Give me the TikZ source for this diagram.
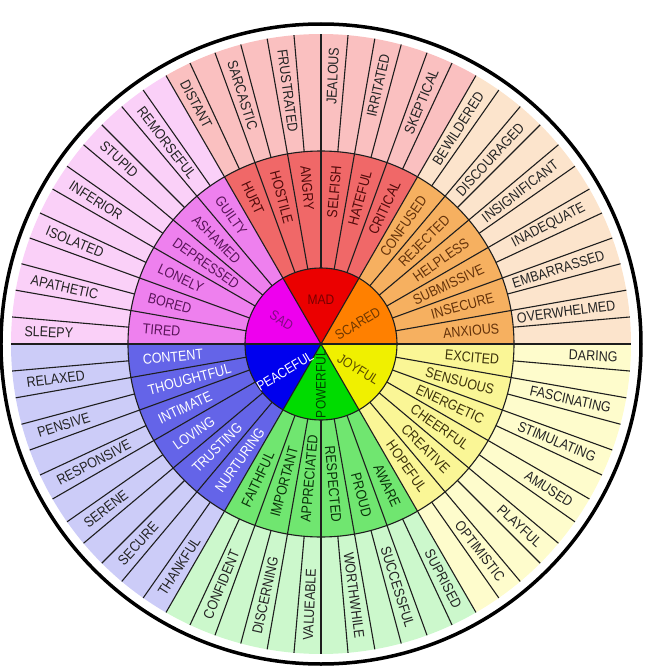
\documentclass[tikz,border=0pt]{standalone}
\usepackage{fontspec}
\setmainfont{Liberation Sans}
\definecolor{sadI}{RGB}{238,0,238}
\definecolor{sadM}{RGB}{238,128,238}
\definecolor{sadO}{RGB}{250,208,248}
\definecolor{madI}{RGB}{235,0,0}
\definecolor{madM}{RGB}{240,104,104}
\definecolor{madO}{RGB}{250,192,192}
\definecolor{scaI}{RGB}{255,128,0}
\definecolor{scaM}{RGB}{246,176,96}
\definecolor{scaO}{RGB}{252,228,204}
\definecolor{joyI}{RGB}{240,240,0}
\definecolor{joyM}{RGB}{250,246,150}
\definecolor{joyO}{RGB}{254,252,204}
\definecolor{powI}{RGB}{0,220,0}
\definecolor{powM}{RGB}{112,230,112}
\definecolor{powO}{RGB}{204,248,204}
\definecolor{peaI}{RGB}{0,0,238}
\definecolor{peaM}{RGB}{100,100,232}
\definecolor{peaO}{RGB}{204,204,248}
\definecolor{sadT}{RGB}{90,20,90}
\definecolor{madT}{RGB}{80,10,10}
\definecolor{scaT}{RGB}{100,50,10}
\definecolor{joyT}{RGB}{60,50,10}
\definecolor{powT}{RGB}{10,50,10}
\definecolor{outT}{RGB}{35,35,35}
\newcommand\radword[5]{% #1 angle, #2 radius, #3 style, #4 name, #5 text
  \pgfmathsetmacro\rwcos{cos(#1)}%
  \ifdim\rwcos pt>0pt
    \node[#3,anchor=east,rotate=#1] (#4) at (#1:#2) {\scalebox{1}[1.15]{#5}};
  \else
    \node[#3,anchor=west,rotate=#1+180] (#4) at (#1:#2) {\scalebox{1}[1.15]{#5}};
  \fi}
\tikzset{
  wline/.style={draw={rgb,255:red,30;green,30;blue,30},line width=1.1pt},
  wordbase/.style={inner sep=0pt,font=\fontsize{12.5}{14}\selectfont},
  outword/.style={wordbase,text=outT},
  midword/.style={wordbase},
  coreword/.style={inner sep=0pt,font=\fontsize{12}{14}\selectfont},
}
\begin{document}
\begin{tikzpicture}[x=1pt,y=1pt]
\useasboundingbox (-321,-326) rectangle (325,344);
% sectors
\foreach \a/\c in {0/sca,60/mad,120/sad,180/pea,240/pow,300/joy}{
  \fill[\c O] (\a:193) arc[start angle=\a,end angle=\a+60,radius=193] -- (\a+60:310) arc[start angle=\a+60,end angle=\a,radius=310] -- cycle;
  \fill[\c M] (\a:76) arc[start angle=\a,end angle=\a+60,radius=76] -- (\a+60:193) arc[start angle=\a+60,end angle=\a,radius=193] -- cycle;
  \fill[\c I] (0,0) -- (\a:76) arc[start angle=\a,end angle=\a+60,radius=76] -- cycle;
}
% dividers
\foreach \t in {0,5,...,355} \draw[wline] (\t:193) -- (\t:310);
\foreach \t in {0,10,...,350} \draw[wline] (\t:76) -- (\t:193);
\foreach \t in {0,60,...,300} \draw[wline] (0,0) -- (\t:76);
\draw[wline] (0,0) circle[radius=76];
\draw[wline] (0,0) circle[radius=193];
\draw[line width=3.5pt,black] (0,0) circle[radius=320];
% outer words
\foreach \a/\w [count=\i] in {177.5/SLEEPY,167.5/APATHETIC,157.5/ISOLATED,147.5/INFERIOR,137.5/STUPID,127.5/REMORSEFUL,
  117.5/DISTANT,107.5/SARCASTIC,97.5/FRUSTRATED,87.5/JEALOUS,77.5/IRRITATED,67.5/SKEPTICAL,
  57.5/BEWILDERED,47.5/DISCOURAGED,37.5/INSIGNIFICANT,27.5/INADEQUATE,17.5/EMBARRASSED,7.5/OVERWHELMED,
  -2.5/DARING,-12.5/FASCINATING,-22.5/STIMULATING,-32.5/AMUSED,-42.5/PLAYFUL,-52.5/OPTIMISTIC,
  -62.5/SUPRISED,-72.5/SUCCESSFUL,-82.5/WORTHWHILE,267.5/VALUEABLE,257.5/DISCERNING,247.5/CONFIDENT,
  237.5/THANKFUL,227.5/SECURE,217.5/SERENE,207.5/RESPONSIVE,197.5/PENSIVE,187.5/RELAXED}
  {\radword{\a}{297}{outword}{o\i}{\w}}
% middle words
\foreach \a/\w/\c [count=\i] in {175/TIRED/sadT,165/BORED/sadT,155/LONELY/sadT,145/DEPRESSED/sadT,135/ASHAMED/sadT,125/GUILTY/sadT,
  115/HURT/madT,105/HOSTILE/madT,95/ANGRY/madT,85/SELFISH/madT,75/HATEFUL/madT,65/CRITICAL/madT,
  55/CONFUSED/scaT,45/REJECTED/scaT,35/HELPLESS/scaT,25/SUBMISSIVE/scaT,15/INSECURE/scaT,5/ANXIOUS/scaT,
  -5/EXCITED/joyT,-15/SENSUOUS/joyT,-25/ENERGETIC/joyT,-35/CHEERFUL/joyT,-45/CREATIVE/joyT,-55/HOPEFUL/joyT,
  -65/AWARE/powT,-75/PROUD/powT,-85/RESPECTED/powT,265/APPRECIATED/powT,255/IMPORTANT/powT,245/FAITHFUL/powT,
  235/NURTURING/white,225/TRUSTING/white,215/LOVING/white,205/INTIMATE/white,195/THOUGHTFUL/white,185/CONTENT/white}
  {\radword{\a}{179}{midword,text=\c}{m\i}{\w}}
% core words
\node[coreword,text={rgb,255:red,120;green,0;blue,0}] (cmad) at (90:44) {\scalebox{1}[1.15]{MAD}};
\node[coreword,text={rgb,255:red,110;green,55;blue,0},rotate=31] (csca) at (29:42) {\scalebox{1}[1.15]{SCARED}};
\node[coreword,text={rgb,255:red,130;green,10;blue,130},rotate=-32] (csad) at (149:46) {\scalebox{1}[1.15]{SAD}};
\node[coreword,text=white,rotate=31] (cpea) at (217:45) {\scalebox{1}[1.15]{PEACEFUL}};
\node[coreword,text={rgb,255:red,0;green,70;blue,0},rotate=90] (cpow) at (270:40) {\scalebox{1}[1.15]{POWERFUL}};
\node[coreword,text={rgb,255:red,90;green,75;blue,0},rotate=-32] (cjoy) at (326:45) {\scalebox{1}[1.15]{JOYFUL}};
\end{tikzpicture}
\end{document}
